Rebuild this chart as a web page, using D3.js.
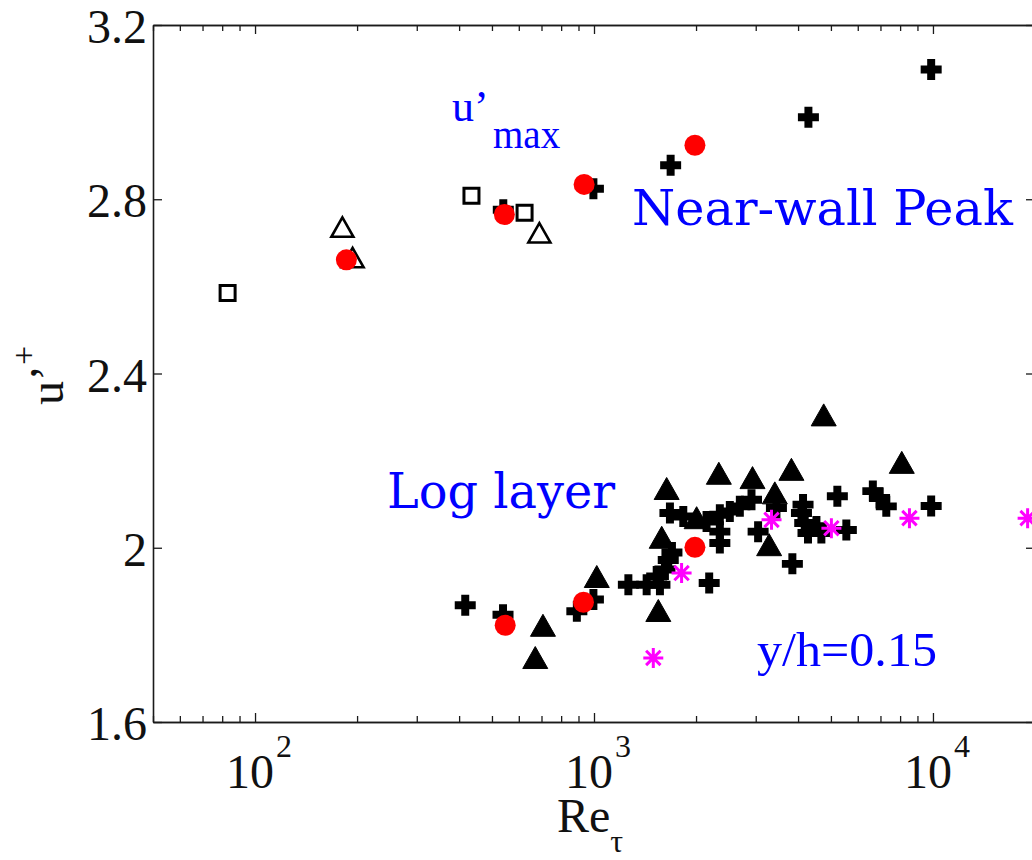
<!DOCTYPE html>
<html>
<head>
<meta charset="utf-8">
<script src="https://cdn.jsdelivr.net/npm/d3@7"></script>
<style>
  html, body { margin: 0; padding: 0; background: #fff; }
  svg { display: block; }
</style>
</head>
<body>
<div id="chart"></div>
<script>
// ---------------- data ----------------
const xDomain = [50, 20000];
const yDomain = [1.6, 3.2];
const yTicks = [1.6, 2.0, 2.4, 2.8, 3.2];
const yTickLabels = ["1.6", "2", "2.4", "2.8", "3.2"];
const xMajorTicks = [100, 1000, 10000];
const xMajorExponents = ["2", "3", "4"];

// open squares (near-wall peak)
const openSquareRe = [83, 435, 624];
const openSquareU  = [2.585, 2.808, 2.769];
// open triangles (near-wall peak)
const openTriangleRe = [181, 194, 690];
const openTriangleU  = [2.736, 2.666, 2.723];
// filled triangles (log layer)
const filledTriangleRe = [707, 671, 1019, 1548, 1584, 1638, 2008, 2335, 2935, 3823, 4761, 8091, 3415, 3286];
const filledTriangleU  = [1.822, 1.748, 1.934, 1.856, 2.024, 2.136, 2.069, 2.171, 2.161, 2.180, 2.305, 2.196, 2.126, 2.007];
// plus markers (near-wall peak)
const plusPeakRe = [540, 996, 1683, 4291, 9879];
const plusPeakU  = [2.776, 2.824, 2.878, 2.988, 3.098];
// plus markers (log layer)
const plusLogRe = [417, 539, 890, 996, 1263, 1430, 1565, 1619, 1656, 1698, 1675, 1834, 2187, 2351, 2351, 2351,
                   2516, 2693, 2915, 3049, 3453, 4137, 4093, 4185, 4279, 4531, 4686, 5552, 5223, 3848,
                   6647, 6958, 7283, 9879, 1531, 2148];
const plusLogU  = [1.868, 1.846, 1.854, 1.881, 1.915, 1.915, 1.915, 1.950, 1.972, 1.989, 2.080, 2.072, 1.919, 2.076, 2.037, 2.011,
                   2.083, 2.095, 2.110, 2.037, 2.091, 2.099, 2.080, 2.057, 2.034, 2.049, 2.034, 2.041, 2.118, 1.963,
                   2.130, 2.114, 2.095, 2.096, 1.934, 2.060];
// red circles
const circleRe = [186, 544, 935, 1985, 547, 931, 1985];
const circleU  = [2.661, 2.765, 2.834, 2.924, 1.822, 1.875, 2.001];
// magenta asterisks
const asteriskRe = [1496, 1813, 3340, 5016, 8524, 19022];
const asteriskU  = [1.747, 1.942, 2.064, 2.045, 2.068, 2.068];

// ---------------- layout ----------------
const W = 1032, H = 860;
const plot = { left: 153, right: 1035, top: 25, bottom: 722 };

const svg = d3.select("#chart").append("svg")
  .attr("width", W).attr("height", H)
  .attr("viewBox", `0 0 ${W} ${H}`);

const x = d3.scaleLog().domain(xDomain).range([plot.left, plot.right]);
const y = d3.scaleLinear().domain(yDomain).range([plot.bottom, plot.top]);

const zip = (a, b) => a.map((v, i) => [v, b[i]]);

// minor ticks for log axis
const xMinorTicks = [];
[10, 100, 1000, 10000].forEach(dec => {
  for (let k = 2; k <= 9; k++) {
    const v = dec * k;
    if (v >= xDomain[0] && v <= xDomain[1]) xMinorTicks.push(v);
  }
});

const axisColor = "#1a1a1a";
const axisWidth = 1.6;

function styleAxis(g) {
  g.select(".domain").attr("stroke", axisColor).attr("stroke-width", axisWidth);
  g.selectAll(".tick line").attr("stroke", axisColor).attr("stroke-width", 1.3);
  g.selectAll(".tick text").remove();
}

// bottom axis (ticks inward)
svg.append("g").attr("transform", `translate(0,${plot.bottom})`)
  .call(d3.axisBottom(x).tickValues(xMinorTicks).tickSize(-6).tickSizeOuter(0).tickFormat(""))
  .call(styleAxis);
svg.append("g").attr("transform", `translate(0,${plot.bottom})`)
  .call(d3.axisBottom(x).tickValues(xMajorTicks).tickSize(-9).tickSizeOuter(0).tickFormat(""))
  .call(styleAxis);
// top axis
svg.append("g").attr("transform", `translate(0,${plot.top})`)
  .call(d3.axisTop(x).tickValues(xMinorTicks).tickSize(-6).tickSizeOuter(0).tickFormat(""))
  .call(styleAxis);
svg.append("g").attr("transform", `translate(0,${plot.top})`)
  .call(d3.axisTop(x).tickValues(xMajorTicks).tickSize(-9).tickSizeOuter(0).tickFormat(""))
  .call(styleAxis);
// left axis
svg.append("g").attr("transform", `translate(${plot.left},0)`)
  .call(d3.axisLeft(y).tickValues(yTicks).tickSize(-9).tickSizeOuter(0).tickFormat(""))
  .call(styleAxis);
// right axis
svg.append("g").attr("transform", `translate(${plot.right},0)`)
  .call(d3.axisRight(y).tickValues(yTicks).tickSize(-9).tickSizeOuter(0).tickFormat(""))
  .call(styleAxis);

const serif = "'Liberation Serif', 'Times New Roman', serif";

// y tick labels
svg.append("g").selectAll("text").data(yTicks).join("text")
  .attr("x", plot.left - 6)
  .attr("y", d => y(d) + 18)
  .attr("text-anchor", "end")
  .attr("font-family", serif)
  .attr("font-size", 48)
  .attr("fill", "#111")
  .text((d, i) => yTickLabels[i]);

// x tick labels 10^n
const xl = svg.append("g").selectAll("text").data(xMajorTicks).join("text")
  .attr("x", d => x(d) - 29)
  .attr("y", 788)
  .attr("font-family", serif)
  .attr("font-size", 48)
  .attr("fill", "#111");
xl.append("tspan").text("10");
xl.append("tspan").attr("font-size", 32).attr("dx", 2).attr("dy", -31)
  .text((d, i) => xMajorExponents[i]);

// x axis label Re_tau
const xt = svg.append("text")
  .attr("x", 557).attr("y", 832)
  .attr("font-family", serif).attr("font-size", 48).attr("fill", "#111");
xt.append("tspan").text("Re");
xt.append("tspan").attr("font-size", 32).attr("dy", 20).text("τ");

// y axis label u'^+
const yt = svg.append("text")
  .attr("transform", "translate(63,405) rotate(-90)")
  .attr("font-family", serif).attr("font-size", 48).attr("fill", "#111");
yt.append("tspan").text("u’");
yt.append("tspan").attr("font-size", 34).attr("dy", -28).text("+");

// ---------------- marker shapes ----------------
const triangleShape = {
  draw(ctx, w) {
    const h = w * 0.88;
    ctx.moveTo(0, -h / 2);
    ctx.lineTo(w / 2, h / 2);
    ctx.lineTo(-w / 2, h / 2);
    ctx.closePath();
  }
};
const squareShape = {
  draw(ctx, w) {
    ctx.rect(-w / 2, -w / 2, w, w);
  }
};
const plusShape = {
  draw(ctx, w) {
    const a = w / 2, t = w * 0.19;
    ctx.moveTo(-t, -a); ctx.lineTo(t, -a); ctx.lineTo(t, -t); ctx.lineTo(a, -t);
    ctx.lineTo(a, t); ctx.lineTo(t, t); ctx.lineTo(t, a); ctx.lineTo(-t, a);
    ctx.lineTo(-t, t); ctx.lineTo(-a, t); ctx.lineTo(-a, -t); ctx.lineTo(-t, -t);
    ctx.closePath();
  }
};
const asteriskShape = {
  draw(ctx, w) {
    const a = w / 2, d = a * 0.72;
    ctx.moveTo(0, -a); ctx.lineTo(0, a);
    ctx.moveTo(-a, 0); ctx.lineTo(a, 0);
    ctx.moveTo(-d, -d); ctx.lineTo(d, d);
    ctx.moveTo(-d, d); ctx.lineTo(d, -d);
  }
};

const marks = svg.append("g");
function drawSeries(re, u, shape, size, fill, stroke, sw) {
  marks.append("g").selectAll("path").data(zip(re, u)).join("path")
    .attr("transform", d => `translate(${x(d[0])},${y(d[1])})`)
    .attr("d", d3.symbol().type(shape).size(size)())
    .attr("fill", fill)
    .attr("stroke", stroke)
    .attr("stroke-width", sw)
    .attr("stroke-linejoin", "miter");
}

drawSeries(openSquareRe, openSquareU, squareShape, 15, "#fff", "#000", 3);
drawSeries(openTriangleRe, openTriangleU, triangleShape, 22, "#fff", "#000", 2.6);
drawSeries(filledTriangleRe, filledTriangleU, triangleShape, 25, "#000", "#000", 1);
drawSeries(plusPeakRe, plusPeakU, plusShape, 21, "#000", "none", 0);
drawSeries(plusLogRe, plusLogU, plusShape, 21, "#000", "none", 0);
drawSeries(asteriskRe, asteriskU, asteriskShape, 20, "none", "#ff00ff", 3);

marks.append("g").selectAll("circle").data(zip(circleRe, circleU)).join("circle")
  .attr("cx", d => x(d[0]))
  .attr("cy", d => y(d[1]))
  .attr("r", 10.5)
  .attr("fill", "#ff0000");

// ---------------- annotations ----------------
const blue = "#0000ff";
const cm = "'DejaVu Serif', serif";

const um = svg.append("text").attr("x", 452).attr("y", 121)
  .attr("font-family", serif).attr("font-size", 44).attr("fill", blue);
um.append("tspan").text("u’");
um.append("tspan").attr("x", 493).attr("y", 148).attr("font-size", 39).text("max");

svg.append("text").attr("x", 632).attr("y", 225)
  .attr("font-family", cm).attr("font-size", 48).attr("fill", blue)
  .attr("textLength", 381).attr("lengthAdjust", "spacingAndGlyphs")
  .text("Near-wall Peak");

svg.append("text").attr("x", 387).attr("y", 508)
  .attr("font-family", cm).attr("font-size", 48).attr("fill", blue)
  .attr("textLength", 228).attr("lengthAdjust", "spacingAndGlyphs")
  .text("Log layer");

svg.append("text").attr("x", 757).attr("y", 666)
  .attr("font-family", serif).attr("font-size", 48).attr("fill", blue)
  .attr("textLength", 180).attr("lengthAdjust", "spacingAndGlyphs")
  .text("y/h=0.15");
</script>
</body>
</html>
